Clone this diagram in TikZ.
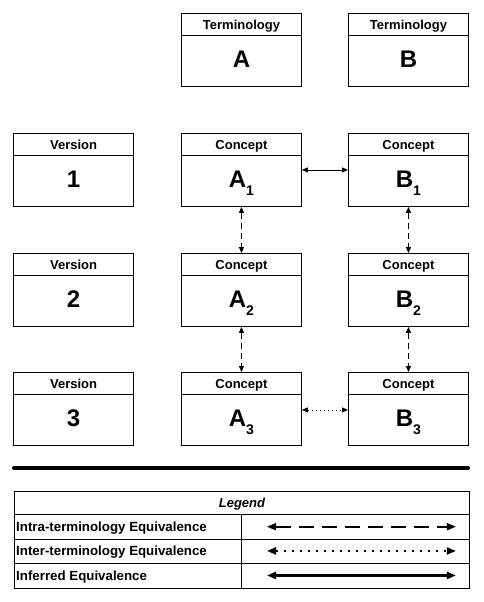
\documentclass[tikz,border=0pt]{standalone}
\usepackage{fontspec}
\setmainfont{Liberation Sans}
\usetikzlibrary{arrows.meta}
\tikzset{
  hdr/.style={draw, line width=0.9pt, minimum width=120pt, minimum height=22pt, inner sep=0pt, text height=9.4pt, text depth=0pt, anchor=north west, font=\bfseries\fontsize{13}{13}\selectfont},
  bdy/.style={draw, line width=0.9pt, minimum width=120pt, minimum height=51pt, inner sep=0pt, text height=17pt, text depth=4pt, anchor=north west, font=\bfseries\fontsize{24}{24}\selectfont},
  both/.style={{Triangle[length=6pt,width=5pt]}-{Triangle[length=6pt,width=5pt]}, line width=0.9pt},
  intra/.style={both, dash pattern=on 6pt off 4pt},
  inter/.style={both, dash pattern=on 1pt off 3pt},
  lgbox/.style={draw, line width=0.9pt, inner sep=0pt, anchor=north west},
  lgtext/.style={anchor=west, inner sep=0pt, text height=9.4pt, text depth=0pt, font=\bfseries\fontsize{13.3}{13.3}\selectfont},
  lgarrow/.style={{Triangle[length=9pt,width=7pt]}-{Triangle[length=9pt,width=7pt]}, line width=2.2pt},
}
\newcommand{\sub}[2]{#1\raisebox{-8pt}{\fontsize{14}{14}\selectfont #2}}
\begin{document}
\begin{tikzpicture}[x=1pt,y=-1pt]
\useasboundingbox (0,0) rectangle (483,602);
% Terminologies
\node[hdr] (ta) at (181,13) {Terminology};
\node[bdy] (tab) at (181,35) {A};
\node[hdr] (tb) at (348,13) {Terminology};
\node[bdy] (tbb) at (348,35) {B};
% Versions
\node[hdr, line width=1.2pt] (v1) at (13,133) {Version};
\node[bdy] (v1b) at (13,155) {1};
\node[hdr, line width=1.2pt] (v2) at (13,253) {Version};
\node[bdy] (v2b) at (13,275) {2};
\node[hdr, line width=1.2pt] (v3) at (13,372) {Version};
\node[bdy] (v3b) at (13,394) {3};
% Concepts A
\node[hdr] (a1) at (181,133) {Concept};
\node[bdy] (a1b) at (181,155) {\sub{A}{1}};
\node[hdr] (a2) at (181,253) {Concept};
\node[bdy] (a2b) at (181,275) {\sub{A}{2}};
\node[hdr] (a3) at (181,372) {Concept};
\node[bdy] (a3b) at (181,394) {\sub{A}{3}};
% Concepts B
\node[hdr] (b1) at (348,133) {Concept};
\node[bdy] (b1b) at (348,155) {\sub{B}{1}};
\node[hdr] (b2) at (348,253) {Concept};
\node[bdy] (b2b) at (348,275) {\sub{B}{2}};
\node[hdr] (b3) at (348,372) {Concept};
\node[bdy] (b3b) at (348,394) {\sub{B}{3}};
% relations
\draw[both] ([yshift=11pt]a1b.east) -- ([yshift=11pt]b1b.west);
\draw[intra] (a1b.south) -- (a2.north);
\draw[intra] (a2b.south) -- (a3.north);
\draw[intra] (b1b.south) -- (b2.north);
\draw[intra] (b2b.south) -- (b3.north);
\draw[inter] ([yshift=10pt]a3b.east) -- ([yshift=10pt]b3b.west);
% separator
\coordinate (s1) at (14,468);
\coordinate (s2) at (468,468);
\draw[line width=4pt, line cap=round] (s1) -- (s2);
% legend
\node[lgbox, minimum width=455pt, minimum height=23pt, text height=9.4pt, text depth=0pt, font=\bfseries\itshape\fontsize{13}{13}\selectfont] (lg) at (14,491) {Legend};
\node[lgbox, minimum width=227pt, minimum height=24.5pt] (l1) at (14,514) {};
\node[lgbox, minimum width=228pt, minimum height=24.5pt] (r1) at (241,514) {};
\node[lgbox, minimum width=227pt, minimum height=24pt] (l2) at (14,538.5) {};
\node[lgbox, minimum width=228pt, minimum height=24pt] (r2) at (241,538.5) {};
\node[lgbox, minimum width=227pt, minimum height=25pt] (l3) at (14,562.5) {};
\node[lgbox, minimum width=228pt, minimum height=25pt] (r3) at (241,562.5) {};
\node[lgtext] (t1) at ([xshift=2pt]l1.west) {Intra-terminology Equivalence};
\node[lgtext] (t2) at ([xshift=2pt]l2.west) {Inter-terminology Equivalence};
\node[lgtext] (t3) at ([xshift=2pt]l3.west) {Inferred Equivalence};
\draw[lgarrow, line width=1.6pt, dash pattern=on 15pt off 8pt] ([xshift=26pt]r1.west) -- ([xshift=-14pt]r1.east);
\draw[lgarrow, line width=2pt, dash pattern=on 2pt off 6pt] ([xshift=26pt]r2.west) -- ([xshift=-14pt]r2.east);
\draw[lgarrow] ([xshift=26pt]r3.west) -- ([xshift=-14pt]r3.east);
\end{tikzpicture}
\end{document}
